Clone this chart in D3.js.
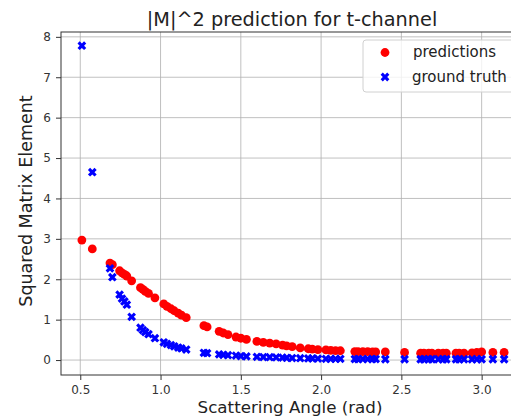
<!DOCTYPE html>
<html>
<head>
<meta charset="utf-8">
<script src="https://cdn.jsdelivr.net/npm/d3@7"></script>
<style>
  html, body { margin: 0; padding: 0; background: #fff; overflow: hidden; }
  svg { display: block; font-family: "DejaVu Sans", sans-serif; }
</style>
</head>
<body>
<div id="chart"></div>
<script>
// scattering angle (rad) for each sample
const angles = [
  0.51, 0.575, 0.685, 0.70, 0.745, 0.76, 0.775, 0.79, 0.82, 0.875, 0.89, 0.905, 0.925, 0.965,
  1.02, 1.04, 1.065, 1.085, 1.11, 1.13, 1.16, 1.27, 1.29, 1.365, 1.39, 1.42, 1.47, 1.50, 1.535,
  1.60, 1.64, 1.68, 1.72, 1.76, 1.785, 1.82, 1.87, 1.92, 1.945, 1.98, 2.03, 2.06, 2.09, 2.12,
  2.21, 2.23, 2.26, 2.29, 2.32, 2.34, 2.40, 2.52, 2.62, 2.64, 2.67, 2.69, 2.73, 2.76, 2.78,
  2.84, 2.86, 2.89, 2.94, 2.97, 3.00, 3.07, 3.14
];
// model predictions of |M|^2
const predictions = [
  2.97, 2.75, 2.40, 2.36, 2.21, 2.16, 2.12, 2.08, 1.96, 1.79, 1.75, 1.70, 1.65, 1.54,
  1.39, 1.33, 1.27, 1.22, 1.16, 1.11, 1.05, 0.85, 0.82, 0.71, 0.67, 0.63, 0.57, 0.54, 0.51,
  0.46, 0.44, 0.42, 0.40, 0.37, 0.35, 0.33, 0.30, 0.28, 0.27, 0.26, 0.25, 0.24, 0.235, 0.23,
  0.21, 0.21, 0.21, 0.21, 0.20, 0.20, 0.20, 0.19, 0.17, 0.17, 0.17, 0.17, 0.17, 0.17, 0.17,
  0.17, 0.17, 0.17, 0.18, 0.19, 0.20, 0.19, 0.19
];
// ground truth |M|^2
const groundTruth = [
  7.78, 4.65, 2.27, 2.05, 1.62, 1.52, 1.45, 1.37, 1.07, 0.80, 0.74, 0.69, 0.64, 0.54,
  0.44, 0.40, 0.37, 0.34, 0.31, 0.29, 0.26, 0.18, 0.17, 0.14, 0.13, 0.12, 0.11, 0.10, 0.09,
  0.08, 0.075, 0.07, 0.065, 0.06, 0.055, 0.05, 0.045, 0.04, 0.04, 0.035, 0.03, 0.03, 0.03, 0.03,
  0.025, 0.025, 0.025, 0.025, 0.025, 0.025, 0.02, 0.02, 0.02, 0.02, 0.02, 0.02, 0.02, 0.02, 0.02,
  0.02, 0.02, 0.02, 0.02, 0.02, 0.02, 0.02, 0.02
];
const xTicks = [0.5, 1.0, 1.5, 2.0, 2.5, 3.0];
const yTicks = [0, 1, 2, 3, 4, 5, 6, 7, 8];

const W = 511, H = 420;
const margin = { left: 61, top: 32, right: -14, bottom: 45 };
const plotW = W - margin.left - margin.right;
const plotH = H - margin.top - margin.bottom;

const svg = d3.select('#chart').append('svg')
    .attr('width', W)
    .attr('height', H);

const x = d3.scaleLinear().domain([0.38, 3.27]).range([0, plotW]);
const y = d3.scaleLinear().domain([-0.37, 8.12]).range([plotH, 0]);

const g = svg.append('g').attr('transform', `translate(${margin.left},${margin.top})`);

// grid
g.append('g')
    .selectAll('line')
    .data(xTicks)
    .enter().append('line')
    .attr('x1', d => x(d)).attr('x2', d => x(d))
    .attr('y1', 0).attr('y2', plotH)
    .attr('stroke', '#b0b0b0').attr('stroke-width', 0.8);
g.append('g')
    .selectAll('line')
    .data(yTicks)
    .enter().append('line')
    .attr('x1', 0).attr('x2', plotW)
    .attr('y1', d => y(d)).attr('y2', d => y(d))
    .attr('stroke', '#b0b0b0').attr('stroke-width', 0.8);

// axes
const xAxis = g.append('g')
    .attr('transform', `translate(0,${plotH})`)
    .call(d3.axisBottom(x).tickValues(xTicks).tickFormat(d3.format('.1f')).tickSize(5).tickPadding(5));
const yAxis = g.append('g')
    .call(d3.axisLeft(y).tickValues(yTicks).tickFormat(d3.format('d')).tickSize(5).tickPadding(5));
[xAxis, yAxis].forEach(a => {
    a.select('.domain').remove();
    a.selectAll('text').attr('font-size', 12).attr('fill', '#333').attr('font-family', '"DejaVu Sans", sans-serif');
    a.selectAll('line').attr('stroke', '#333');
});

// spines
g.append('rect')
    .attr('x', 0).attr('y', 0)
    .attr('width', plotW).attr('height', plotH)
    .attr('fill', 'none')
    .attr('stroke', '#333').attr('stroke-width', 1);

const pts = angles.map((a, i) => ({ a, p: predictions[i], t: groundTruth[i] }));

// predictions
g.append('g')
    .selectAll('circle')
    .data(pts)
    .enter().append('circle')
    .attr('cx', d => x(d.a))
    .attr('cy', d => y(d.p))
    .attr('r', 4.4)
    .attr('fill', '#ff0000');

// ground truth
const xMark = d3.symbol().type(d3.symbolCross).size(48);
g.append('g')
    .selectAll('path')
    .data(pts)
    .enter().append('path')
    .attr('d', xMark)
    .attr('transform', d => `translate(${x(d.a)},${y(d.t)}) rotate(45)`)
    .attr('fill', '#0000ff');

// legend
const leg = svg.append('g').attr('transform', 'translate(363,40)');
leg.append('rect')
    .attr('width', 170).attr('height', 52)
    .attr('rx', 3)
    .attr('fill', '#fff').attr('fill-opacity', 0.8)
    .attr('stroke', '#d0d0d0');
leg.append('circle').attr('cx', 22).attr('cy', 12.5).attr('r', 4.4).attr('fill', '#ff0000');
leg.append('path').attr('d', xMark).attr('transform', 'translate(22,37) rotate(45)').attr('fill', '#0000ff');
leg.append('text').attr('x', 50).attr('y', 17).attr('font-size', 15).attr('fill', '#222').text('predictions');
leg.append('text').attr('x', 49).attr('y', 42).attr('font-size', 15).attr('fill', '#222').text('ground truth');

// title and labels
svg.append('text')
    .attr('x', 292).attr('y', 26)
    .attr('text-anchor', 'middle')
    .attr('font-size', 19.3).attr('fill', '#222')
    .text('|M|^2 prediction for t-channel');
svg.append('text')
    .attr('x', 290).attr('y', 413)
    .attr('text-anchor', 'middle')
    .attr('font-size', 16.7).attr('fill', '#222')
    .text('Scattering Angle (rad)');
svg.append('text')
    .attr('transform', 'translate(32,201) rotate(-90)')
    .attr('text-anchor', 'middle')
    .attr('font-size', 17.5).attr('fill', '#222')
    .text('Squared Matrix Element');
</script>
</body>
</html>
